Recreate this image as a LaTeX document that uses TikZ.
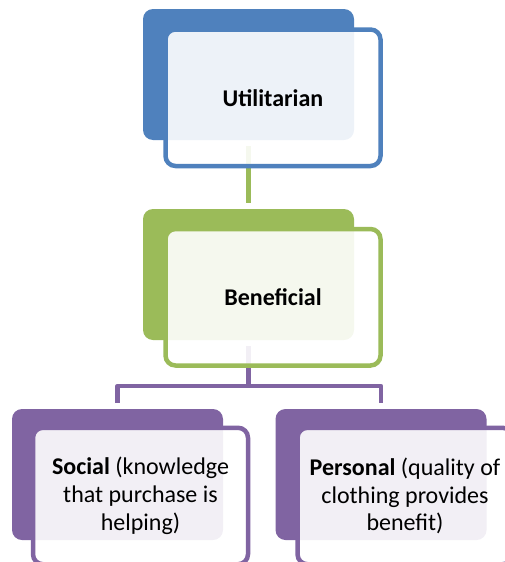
\documentclass[tikz,border=0pt]{standalone}
\usepackage{fontspec}
\setmainfont{Carlito}
\usetikzlibrary{calc}
\definecolor{cblue}{HTML}{4F81BD}
\definecolor{cgreen}{HTML}{9BBB59}
\definecolor{cpurple}{HTML}{8064A2}
\begin{document}
\begin{tikzpicture}[x=1pt,y=-1pt,
  backbox/.style={rectangle, rounded corners=10pt, fill=#1, draw=none, minimum width=211pt, minimum height=131pt, inner sep=0pt, outer sep=0pt},
  frontbox/.style={rectangle, rounded corners=10pt, draw=#1, line width=4.5pt, fill=white, fill opacity=0.9, text opacity=1, minimum width=215pt, minimum height=136.5pt, inner sep=0pt, outer sep=0pt, align=center, font=\fontsize{24}{27.8}\selectfont},
  conn/.style={draw=#1, line width=4.5pt, shorten <=6pt, shorten >=6pt}
]
\useasboundingbox (0,0) rectangle (504,562);
% back boxes
\node[backbox=cblue] (tb) at (248.5,74.5) {};
\node[backbox=cgreen] (gb) at (248.5,274.5) {};
\node[backbox=cpurple] (lb) at (117.5,474.5) {};
\node[backbox=cpurple] (rb) at (381,474.5) {};
% connectors
\draw[conn=cgreen] (tb.south) -- (gb.north);
\coordinate (bus) at ($(gb.south)+(0,46)$);
\draw[draw=cpurple, line width=4.5pt, shorten <=6pt] (gb.south) -- (bus);
\draw[draw=cpurple, line width=4.5pt, shorten >=6pt, line join=round] (bus) -| (lb.north);
\draw[draw=cpurple, line width=4.5pt, shorten >=6pt, line join=round] (bus) -| (rb.north);
% front boxes
\node[frontbox=cblue] (tf) at (273,97.75) {\textbf{Utilitarian}};
\node[frontbox=cgreen] (gf) at (273,297.25) {\textbf{Beneficial}};
\node[frontbox=cpurple] (lf) at (140.5,496) {\textbf{Social} (knowledge\\that purchase is\\helping)};
\node[frontbox=cpurple] (rf) at (405,496) {\textbf{Personal} (quality of\\clothing provides\\benefit)};
\end{tikzpicture}
\end{document}
